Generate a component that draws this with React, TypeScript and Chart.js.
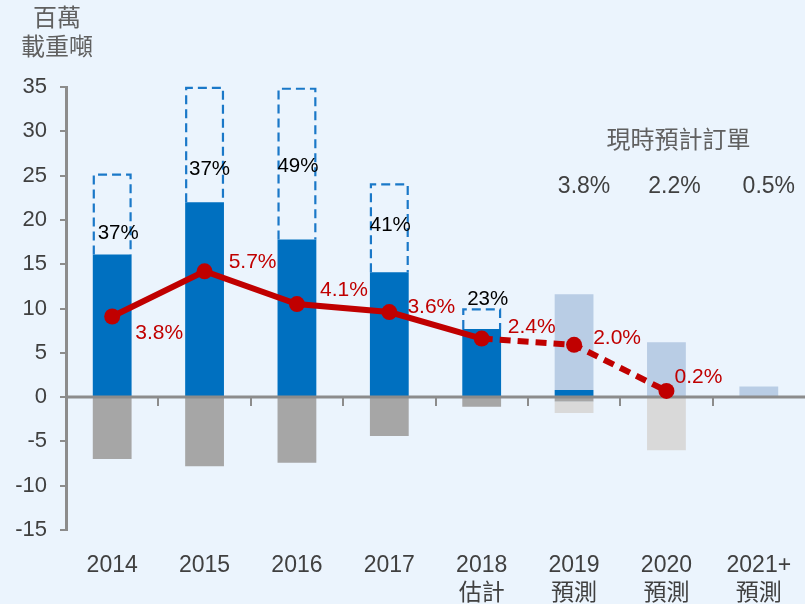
import React, { useEffect, useRef } from 'react';
import { Chart, registerables } from 'chart.js';

Chart.register(...registerables);

// ---------- data ----------
const categories = ['2014', '2015', '2016', '2017', '2018', '2019', '2020', '2021+'];
const subLabels = ['', '', '', '', '估計', '預測', '預測', '預測'];
const deliveries = [16.1, 22.0, 17.8, 14.1, 7.7, 0.8, null, null];
const scheduledTotal = [25.1, 34.9, 34.8, 24.0, 9.9, null, null, null];
const forecastDeliveries = [null, null, null, null, null, 10.8, 6.2, 1.2];
const demolition = [-7.0, -7.8, -7.4, -4.4, -1.1, -0.5, null, null];
const demolitionForecast = [null, null, null, null, null, -1.3, -6.0, null];
const fleetGrowth = [9.1, 14.2, 10.5, 9.6, 6.6, 5.9, 0.7, null];
const growthLabels = ['3.8%', '5.7%', '4.1%', '3.6%', '2.4%', '2.0%', '0.2%'];
const slippageLabels = ['37%', '37%', '49%', '41%', '23%'];
const slippageLabelY = [18.5, 25.7, 26.0, 19.4, 11.0];
const orderbookLabels = ['3.8%', '2.2%', '0.5%'];
const orderbookTitle = '現時預計訂單';
const axisTitle = ['百萬', '載重噸'];

// ---------- style ----------
const FONT = "'Liberation Sans', Arial, 'Noto Sans CJK TC', sans-serif";
const CJK = "'Noto Sans CJK TC', 'Liberation Sans', sans-serif";
const BG = '#EBF4FD';
const growthDx = [47, 48, 47, 42, 50, 43, 32];
const growthDy = [17, -9, -14, -5, -11, -7, -14];
const slippageDx = [6, 5, 1, 1, 6];
const orderbookDx = [10, 8, 10];

const remaining = scheduledTotal.map((t, i) =>
  t == null ? null : +(t - (deliveries[i] ?? 0)).toFixed(2)
);

const overlay = {
  id: 'overlay',
  beforeDatasetDraw(chart: any, args: any) {
    if (args.meta.type !== 'line') return;
    const ctx = chart.ctx;
    const xs = chart.scales.x;
    const ys = chart.scales.y;
    const area = chart.chartArea;
    ctx.save();
    // dashed outlines for scheduled deliveries
    const meta = chart.getDatasetMeta(1);
    ctx.strokeStyle = '#1A78C8';
    ctx.lineWidth = 2.2;
    ctx.setLineDash([9, 5]);
    meta.data.forEach((el: any, i: number) => {
      if (scheduledTotal[i] == null) return;
      const p = el.getProps(['x', 'y', 'base', 'width'], true);
      const l = p.x - p.width / 2 + 1;
      const r = p.x + p.width / 2 - 1;
      ctx.beginPath();
      ctx.moveTo(l, p.base);
      ctx.lineTo(l, p.y);
      ctx.lineTo(r, p.y);
      ctx.lineTo(r, p.base);
      ctx.stroke();
    });
    ctx.setLineDash([]);
    // zero line
    const y0 = ys.getPixelForValue(0);
    ctx.strokeStyle = '#8C8C8C';
    ctx.lineWidth = 3;
    ctx.beginPath();
    ctx.moveTo(area.left, y0);
    ctx.lineTo(chart.width, y0);
    ctx.stroke();
    ctx.lineWidth = 2;
    for (let i = 1; i < categories.length; i++) {
      const px = Math.round((xs.getPixelForValue(i - 1) + xs.getPixelForValue(i)) / 2);
      ctx.beginPath();
      ctx.moveTo(px, y0);
      ctx.lineTo(px, y0 + 9);
      ctx.stroke();
    }
    ctx.restore();
  },
  afterDatasetsDraw(chart: any) {
    const ctx = chart.ctx;
    const xs = chart.scales.x;
    const ys = chart.scales.y;
    ctx.save();
    ctx.textAlign = 'center';
    ctx.textBaseline = 'middle';
    // growth labels
    const lineMeta = chart.getDatasetMeta(5);
    ctx.fillStyle = '#C00000';
    ctx.font = `21px ${FONT}`;
    growthLabels.forEach((t, i) => {
      const el = lineMeta.data[i];
      if (!el) return;
      ctx.fillText(t, el.x + growthDx[i], el.y + growthDy[i]);
    });
    // slippage labels
    ctx.fillStyle = '#000000';
    ctx.font = `20.5px ${FONT}`;
    slippageLabels.forEach((t, i) => {
      ctx.fillText(t, xs.getPixelForValue(i) + slippageDx[i], ys.getPixelForValue(slippageLabelY[i]));
    });
    // orderbook labels
    ctx.fillStyle = '#404040';
    ctx.font = `23px ${FONT}`;
    orderbookLabels.forEach((t, i) => {
      ctx.fillText(t, xs.getPixelForValue(5 + i) + orderbookDx[i], ys.getPixelForValue(23.7));
    });
    ctx.fillStyle = '#606060';
    ctx.font = `24px ${CJK}`;
    ctx.fillText(orderbookTitle, xs.getPixelForValue(6) + 12, ys.getPixelForValue(29.2));
    // axis title
    ctx.fillText(axisTitle[0], 57, 17);
    ctx.fillText(axisTitle[1], 57, 46);
    ctx.restore();
  },
};

export default function App() {
  const ref = useRef<HTMLCanvasElement | null>(null);
  useEffect(() => {
    if (!ref.current) return;
    const chart = new Chart(ref.current, {
      type: 'bar',
      data: {
        labels: categories.map((c, i) => (subLabels[i] ? [c, subLabels[i]] : c)),
        datasets: [
          { type: 'bar', label: 'deliveries', data: deliveries, backgroundColor: '#0070C0', stack: 'bars', order: 2 },
          { type: 'bar', label: 'scheduled', data: remaining, backgroundColor: 'rgba(0,0,0,0)', stack: 'bars', order: 2 },
          { type: 'bar', label: 'forecast', data: forecastDeliveries, backgroundColor: '#B9CDE5', stack: 'bars', order: 2 },
          { type: 'bar', label: 'demolition', data: demolition, backgroundColor: '#A6A6A6', stack: 'bars', order: 2 },
          { type: 'bar', label: 'demolition forecast', data: demolitionForecast, backgroundColor: '#D9D9D9', stack: 'bars', order: 2 },
          {
            type: 'line',
            label: 'growth',
            data: fleetGrowth,
            stack: 'line',
            order: 1,
            borderColor: '#C00000',
            backgroundColor: '#C00000',
            borderWidth: 6,
            pointRadius: 8,
            pointBorderWidth: 0,
            pointBackgroundColor: '#C00000',
            tension: 0,
            spanGaps: false,
            segment: {
              borderDash: (c: any) => (c.p0DataIndex >= 4 ? [11, 7] : undefined),
            },
          } as any,
        ],
      },
      options: {
        animation: false,
        responsive: false,
        maintainAspectRatio: false,
        layout: { autoPadding: false, padding: { top: 87, right: -3, left: 0, bottom: 0 } },
        datasets: { bar: { categoryPercentage: 1, barPercentage: 0.42 } },
        plugins: { legend: { display: false }, tooltip: { enabled: false } },
        scales: {
          x: {
            stacked: true,
            grid: { display: false, drawTicks: false },
            border: { display: false },
            ticks: {
              color: '#404040',
              font: { size: 23, family: FONT, lineHeight: 1.2 },
              padding: 22,
              maxRotation: 0,
              autoSkip: false,
            },
            afterFit: (s: any) => {
              s.height = 74;
              s.paddingLeft = 0;
              s.paddingRight = 0;
            },
          },
          y: {
            stacked: true,
            min: -15,
            max: 35,
            ticks: { stepSize: 5, color: '#404040', font: { size: 22, family: FONT }, padding: 13 },
            grid: { drawOnChartArea: false, color: '#8C8C8C', lineWidth: 2, tickLength: 6 },
            border: { color: '#8C8C8C', width: 3 },
            afterFit: (s: any) => {
              s.width = 66;
            },
          },
        },
      } as any,
      plugins: [overlay],
    });
    return () => chart.destroy();
  }, []);
  return (
    <div style={{ position: 'fixed', left: 0, top: 0, width: 805, height: 604, background: BG }}>
      <canvas ref={ref} width={805} height={604} style={{ display: 'block', width: 805, height: 604 }} />
    </div>
  );
}
